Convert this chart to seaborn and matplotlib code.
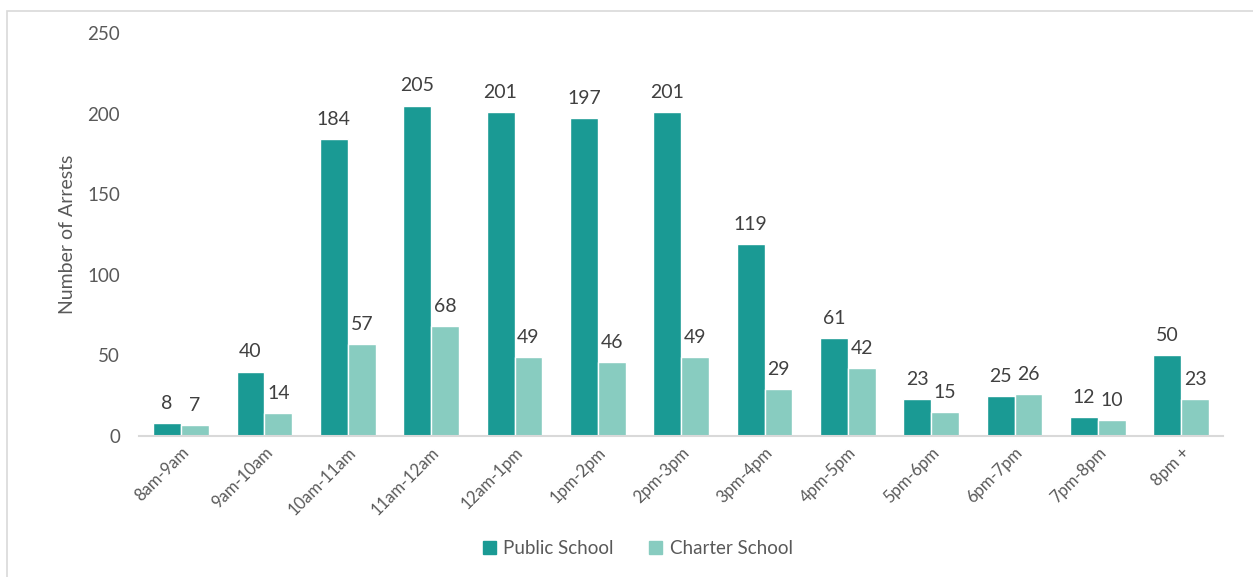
import matplotlib
matplotlib.use("Agg")
import matplotlib.pyplot as plt
import matplotlib.patches as mpatches
import seaborn as sns
import pandas as pd

time_slots = ["8am-9am", "9am-10am", "10am-11am", "11am-12am", "12am-1pm", "1pm-2pm",
              "2pm-3pm", "3pm-4pm", "4pm-5pm", "5pm-6pm", "6pm-7pm", "7pm-8pm", "8pm +"]
public_school = [8, 40, 184, 205, 201, 197, 201, 119, 61, 23, 25, 12, 50]
charter_school = [7, 14, 57, 68, 49, 46, 49, 29, 42, 15, 26, 10, 23]
series_names = ["Public School", "Charter School"]
y_ticks = [0, 50, 100, 150, 200, 250]

df = pd.DataFrame({
    "slot": time_slots * 2,
    "arrests": public_school + charter_school,
    "school": [series_names[0]] * len(time_slots) + [series_names[1]] * len(time_slots),
})

sns.set_theme(style="white")
plt.rcParams["font.family"] = ["Lato", "DejaVu Sans"]

text_gray = "#595959"
palette = {"Public School": "#1A9A94", "Charter School": "#88CCC0"}

fig = plt.figure(figsize=(12.53, 5.77), dpi=100)
ax = fig.add_axes([0.1113, 0.2444, 0.8647, 0.6984])

sns.barplot(data=df, x="slot", y="arrests", hue="school", order=time_slots,
            hue_order=series_names, palette=palette, width=0.67, saturation=1,
            ax=ax, legend=False)

for container in ax.containers:
    ax.bar_label(container, padding=8, fontsize=14, color="#404040")

ax.set_ylim(0, 250)
ax.set_xlim(-0.5, len(time_slots) - 0.5)
ax.set_yticks(y_ticks)
ax.set_yticklabels([str(v) for v in y_ticks], fontsize=13.5, color=text_gray)
ax.set_xticks(range(len(time_slots)))
ax.set_xticklabels(time_slots, rotation=45, ha="right", rotation_mode="anchor",
                   fontsize=12, color=text_gray)
ax.tick_params(axis="y", length=0, pad=14)
ax.tick_params(axis="x", length=0, pad=6)
ax.set_xlabel("")
ax.set_ylabel("Number of Arrests", fontsize=14, color=text_gray, labelpad=8)

for side in ["top", "right", "left"]:
    ax.spines[side].set_visible(False)
ax.spines["bottom"].set_color("#D9D9D9")
ax.spines["bottom"].set_linewidth(1.5)
ax.grid(False)

handles = [mpatches.Patch(color=palette[n], label=n) for n in series_names]
fig.legend(handles=handles, loc="center", bbox_to_anchor=(0.509, 0.05), ncol=2,
           frameon=False, fontsize=13.5, labelcolor=text_gray, handlelength=0.7,
           handleheight=0.7, handletextpad=0.4, columnspacing=1.9)

# chart frame
fig.patches.append(mpatches.Rectangle((7 / 1253, -0.1), 1.2, 1 - 11 / 577 + 0.1,
                                      transform=fig.transFigure, fill=False,
                                      edgecolor="#D9D9D9", linewidth=1.2))

fig.savefig("out.png", dpi=100)
